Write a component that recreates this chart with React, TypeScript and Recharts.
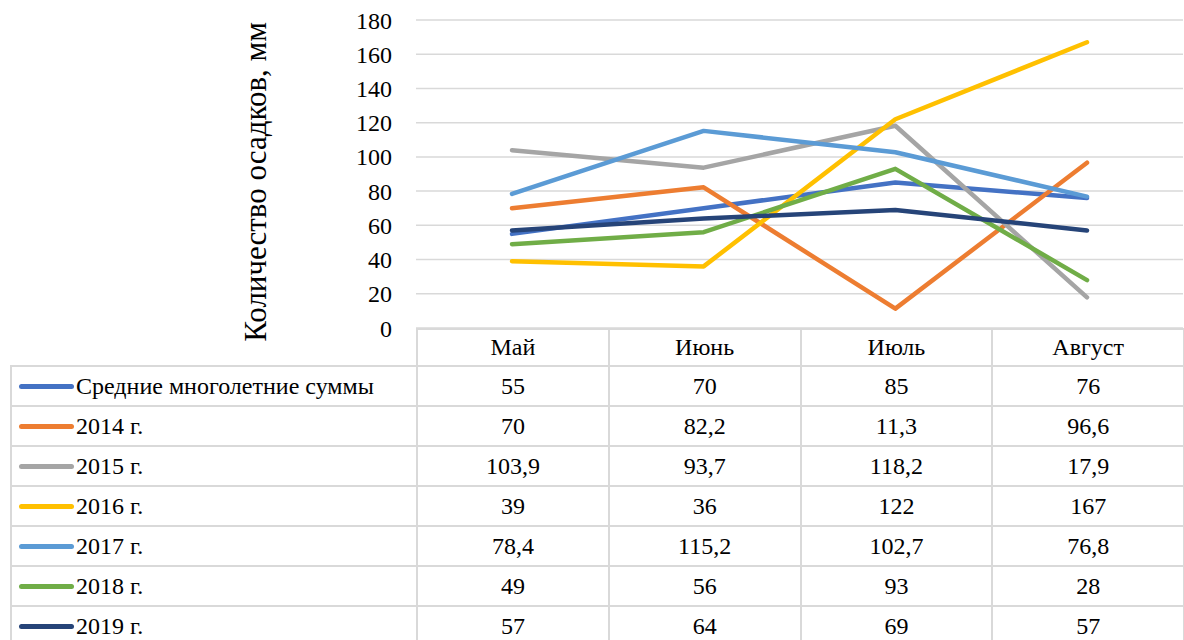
import { LineChart, Line, XAxis, YAxis, CartesianGrid } from "recharts";

const months = ["Май", "Июнь", "Июль", "Август"];

const seriesNames = [
  "Средние многолетние суммы",
  "2014 г.",
  "2015 г.",
  "2016 г.",
  "2017 г.",
  "2018 г.",
  "2019 г.",
];

const avgValues = [55, 70, 85, 76];
const y2014 = [70, 82.2, 11.3, 96.6];
const y2015 = [103.9, 93.7, 118.2, 17.9];
const y2016 = [39, 36, 122, 167];
const y2017 = [78.4, 115.2, 102.7, 76.8];
const y2018 = [49, 56, 93, 28];
const y2019 = [57, 64, 69, 57];

const yTicks = [0, 20, 40, 60, 80, 100, 120, 140, 160, 180];

const seriesValues = [avgValues, y2014, y2015, y2016, y2017, y2018, y2019];
const colors = ["#4472C4", "#ED7D31", "#A5A5A5", "#FFC000", "#5B9BD5", "#70AD47", "#264478"];

const data = months.map((m, i) => {
  const row: Record<string, string | number> = { month: m };
  seriesValues.forEach((vals, s) => {
    row[`s${s}`] = vals[i];
  });
  return row;
});

const FONT = "Liberation Serif, DejaVu Serif, serif";
const GRID = "#d9d9d9";
const PLOT_LEFT = 416;
const COL_W = 191.75;

const fmt = (v: number) => String(v).replace(".", ",");

export default function App() {
  const cell = (extra: React.CSSProperties): React.CSSProperties => ({
    position: "absolute",
    boxSizing: "border-box",
    display: "flex",
    alignItems: "center",
    fontSize: 24,
    fontFamily: FONT,
    color: "#000",
    ...extra,
  });

  const headerTop = 328;
  const headerH = 37;
  const rowH = 40;

  return (
    <div
      style={{
        position: "absolute",
        left: 0,
        top: 0,
        width: 1184,
        height: 640,
        overflow: "hidden",
        background: "#fff",
        fontFamily: FONT,
      }}
    >
      <LineChart
        width={1184}
        height={348}
        data={data}
        margin={{ top: 20, right: 1, left: 0, bottom: 20 }}
        style={{ position: "absolute", left: 0, top: 0 }}
      >
        <CartesianGrid vertical={false} stroke={GRID} strokeWidth={1.5} />
        <XAxis dataKey="month" hide padding={{ left: 96, right: 96 }} />
        <YAxis
          width={PLOT_LEFT}
          domain={[0, 180]}
          ticks={yTicks}
          interval={0}
          axisLine={false}
          tickLine={false}
          tickMargin={18}
          tick={{ fill: "#000", fontSize: 24, fontFamily: FONT }}
          label={{
            value: "Количество осадков, мм",
            angle: -90,
            position: "center",
            dx: 47,
            dy: 8,
            style: { fill: "#000", fontSize: 31, fontFamily: FONT, textAnchor: "middle" },
          }}
        />
        {seriesNames.map((name, s) => (
          <Line
            key={name}
            dataKey={`s${s}`}
            name={name}
            stroke={colors[s]}
            strokeWidth={4.5}
            strokeLinecap="round"
            strokeLinejoin="round"
            dot={false}
            isAnimationActive={false}
          />
        ))}
      </LineChart>

      {/* data table under the plot */}
      {months.map((m, i) => (
        <div
          key={m}
          style={cell({
            left: PLOT_LEFT + i * COL_W,
            top: headerTop,
            width: COL_W + 2,
            height: headerH + 2,
            border: `2px solid ${GRID}`,
            justifyContent: "center",
          })}
        >
          {m}
        </div>
      ))}
      {seriesNames.map((name, s) => {
        const top = headerTop + headerH + s * rowH;
        return (
          <div key={name}>
            <div
              style={cell({
                left: 10,
                top,
                width: PLOT_LEFT - 10 + 2,
                height: rowH + 2,
                border: `2px solid ${GRID}`,
                paddingLeft: 7,
              })}
            >
              <span
                style={{
                  display: "inline-block",
                  width: 55,
                  height: 5,
                  borderRadius: 3,
                  background: colors[s],
                  marginRight: 2,
                }}
              />
              {name}
            </div>
            {seriesValues[s].map((v, i) => (
              <div
                key={i}
                style={cell({
                  left: PLOT_LEFT + i * COL_W,
                  top,
                  width: COL_W + 2,
                  height: rowH + 2,
                  border: `2px solid ${GRID}`,
                  justifyContent: "center",
                })}
              >
                {fmt(v)}
              </div>
            ))}
          </div>
        );
      })}
    </div>
  );
}
